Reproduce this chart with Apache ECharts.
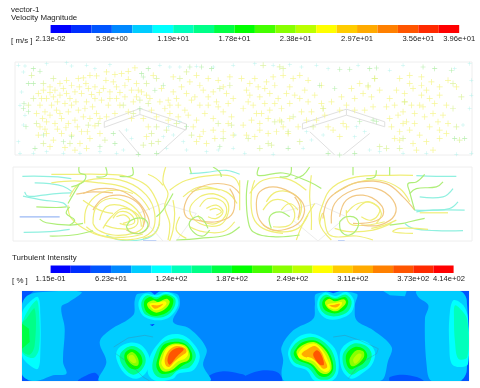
<!DOCTYPE html>
<html><head><meta charset="utf-8">
<style>html,body{margin:0;padding:0;background:#fff}#c{width:480px;height:388px;filter:blur(0.5px)}</style>
<script src="https://cdn.jsdelivr.net/npm/echarts@6/dist/echarts.min.js"></script>
</head><body><div id="c"></div>
<script>
// Rainbow palette of both legends (20 bands)
const palette=['#0000ff','#002dff','#0055ff','#0088ff','#00ccff','#00ffff','#00ffbb','#00ff88','#00ff44','#00ff00','#44ff00','#88ff00','#bbff00','#ffff00','#ffcc00','#ffaa00','#ff8000','#ff5500','#ff2a00','#ff0000'];
const velocityTicks=[0,3,6,9,12,15,18,20];
const velocityLabels=['2.13e-02','5.96e+00','1.19e+01','1.78e+01','2.38e+01','2.97e+01','3.56e+01','3.96e+01'];
const turbulenceTicks=[0,3,6,9,12,15,18,19.77];
const turbulenceLabels=['1.15e-01','6.23e+01','1.24e+02','1.87e+02','2.49e+02','3.11e+02','3.73e+02','4.14e+02'];

// Vector plot: arrow positions per speed colour (domain units)
const vecYellow=[[115,115],[130,105],[150,95],[165,105],[180,85],[200,75],[215,90],[235,70],[250,68],[270,60],[290,62],[320,50],[345,58],[365,55],[385,48],[405,38],[120,150],[140,130],[160,125],[180,120],[200,115],[225,110],[245,115],[265,100],[285,95],[310,100],[330,110],[350,95],[375,90],[395,105],[110,175],[135,170],[150,180],[170,165],[195,145],[215,150],[235,165],[260,140],[285,130],[305,135],[325,150],[350,130],[375,125],[400,140],[120,215],[115,240],[140,200],[165,205],[185,190],[205,205],[225,195],[250,185],[270,190],[290,175],[245,230],[215,240],[185,235],[160,255],[140,235],[240,265],[270,250],[300,235],[320,185],[345,175],[385,170],[430,190],[445,215],[440,245],[455,165],[470,185],[495,160],[510,175],[535,150],[555,165],[575,135],[600,150],[625,125],[650,140],[680,115],[700,130],[520,110],[545,95],[570,80],[600,90],[625,70],[655,75],[690,65],[590,195],[615,175],[640,190],[670,170],[695,185],[610,230],[640,225],[670,230],[700,240],[620,265],[590,260],[450,130],[480,140],[505,135],[530,130],[460,60],[520,65],[590,60],[410,125],[425,110],[395,190],
[125,130],[150,112],[172,140],[190,100],[210,130],[238,95],[258,85],[275,118],[298,112],[318,75],[340,80],[360,112],[385,72],[410,85],[128,190],[155,150],[180,175],[205,170],[228,140],[255,160],[278,155],[300,190],[330,130],[360,150],[135,222],[172,222],[198,218],[232,215],[262,230],[285,212],[150,275],[195,278],[225,285],[260,280],[485,100],[510,150],[560,115],[585,125],[610,105],[640,110],[670,95],[505,195],[535,185],[565,180],[580,215],[655,155],[685,145],[625,150],[600,245],[645,250],[685,205],[440,120],[415,105]];
const vecLime=[[100,130],[85,150],[110,205],[130,265],[210,265],[265,210],[160,70],[130,85],[95,60],[295,205],[315,255],[440,85],[470,70],[540,70],[560,50],[660,100],[690,90],[655,205],[670,250],[695,210],[530,205],[500,225],[575,240],[455,265],[430,270],[400,175],[370,150],[420,135],[445,145],[470,215],[455,235],[475,260]];
const vecGreen=[[100,40],[120,48],[85,85],[100,85],[72,145],[85,170],[70,160],[78,215],[105,280],[190,260],[215,245],[300,275],[345,265],[430,65],[490,90],[465,105],[420,160],[415,298],[470,295],[560,215],[660,275],[635,40],[605,35],[570,35],[130,240],[340,235],[425,55],[445,40]];
const vecCyan=[[55,30],[75,32],[70,50],[140,25],[200,22],[215,32],[260,30],[285,40],[330,28],[480,30],[510,35],[540,35],[590,33],[640,35],[700,30],[65,110],[60,150],[75,180],[70,210],[55,260],[60,295],[100,295],[140,290],[190,295],[240,295],[300,290],[350,295],[380,225],[395,250],[370,285],[505,215],[520,240],[490,245],[540,200],[550,260],[500,280],[560,285],[620,290],[655,285],[700,280],[705,240]];
const vecYellowRight=[[5,70],[30,85],[55,95],[80,80],[105,90],[130,60],[160,70],[180,60],[205,75],[245,90],[30,120],[60,125],[90,115],[115,130],[140,115],[180,130],[205,140],[245,145],[10,160],[40,150],[65,175],[90,165],[125,160],[150,145],[185,170],[215,170],[250,160],[275,140],[305,125],[335,100],[360,85],[385,95],[405,70],[10,210],[35,195],[60,205],[85,190],[120,195],[150,190],[20,240],[45,245],[85,235],[110,230],[145,235],[310,205],[320,215],[280,225],[300,245],[265,215],[255,180],[300,165],[345,165],[375,165],[400,155],[450,190],[475,180],[500,200],[525,175],[555,185],[580,175],[610,180],[450,130],[470,105],[495,115],[520,100],[545,120],[570,130],[600,120],[625,75],[650,95],[480,70],[510,60],[545,65],[575,80],[455,215],[480,230],[510,225],[540,240],[570,215],[600,225],[625,205],[520,265],[560,260],[600,250],[480,255],[495,140],[540,150],[585,145],[620,150],
[20,105],[45,70],[75,100],[100,65],[150,95],[195,105],[225,120],[25,140],[50,175],[75,145],[105,145],[165,120],[230,195],[200,195],[175,215],[60,225],[130,215],[370,115],[345,130],[320,150],[395,125],[420,105],[440,155],[465,150],[490,170],[515,150],[550,155],[595,200],[525,205],[490,205],[465,250],[545,90],[600,95],[560,105],[510,85],[530,285],[580,285],[620,235]];
const vecLimeRight=[[105,200],[125,200],[95,270],[85,265],[145,230],[160,185],[250,160],[405,70],[385,90],[495,140],[640,85],[665,125],[640,160],[650,215],[660,255],[490,250],[480,280],[420,275],[440,280],[25,250],[60,280],[180,260],[220,215],[120,35],[70,30],[130,40]];
const vecGreenRight=[[390,40],[410,38],[300,42],[330,42],[285,100],[240,90],[145,280],[345,295],[300,300],[265,295],[360,200],[400,195],[410,200],[635,45],[550,35],[585,40],[645,250],[675,250]];
const vecCyanRight=[[45,25],[100,30],[150,28],[185,35],[265,40],[230,30],[355,30],[450,45],[490,30],[645,40],[690,25],[695,75],[690,160],[670,210],[695,120],[15,295],[100,298],[190,280],[215,255],[250,240],[200,230],[345,245],[350,215],[375,230],[390,285],[420,290],[650,298],[695,295],[560,295],[490,295]];

// Vector plot: device wireframe (domain units)
const wireLeft=[[[313,200],[420,160],[560,207]],[[313,217],[420,178],[558,225]],[[313,200],[313,217]],[[420,160],[420,178]],[[560,207],[558,225]],[[357,225],[420,300]],[[558,222],[472,300]]];
const wireRight=[[[188,205],[320,162],[435,200]],[[188,222],[320,180],[435,215]],[[188,205],[188,222]],[[320,162],[320,180]],[[435,200],[435,215]],[[210,230],[285,300]],[[390,235],[310,300]]];

// Path lines: left half, colour key then points (domain units)
const pathCyan=[[[68,48],[130,48],[175,50],[215,55]],[[105,68],[150,70],[190,78],[218,95]],[[75,95],[85,108],[130,105],[170,100],[215,98]],[[70,108],[130,120],[190,128],[205,145]],[[72,217],[150,215],[210,208]],[[320,225],[360,240],[420,240],[460,225],[480,190]],[[570,40],[620,36],[680,30],[720,42]]];
const pathBlue=[[[60,170],[120,170],[180,170]],[[430,243],[470,243]]];
const pathGreen=[[[110,140],[170,142],[200,140]],[[120,177],[140,188],[210,195],[250,190]],[[150,228],[220,225],[280,212]],[[238,20],[240,38],[258,45],[250,65],[215,80]],[[318,20],[320,45],[290,50]],[[398,20],[398,45],[360,48]],[[210,140],[200,160],[225,180],[210,195]],[[380,200],[395,180],[430,175],[445,195],[425,218],[395,218],[380,200]],[[520,100],[490,150],[470,170]],[[640,20],[660,35],[665,50]],[[625,205],[600,170],[570,185],[580,215],[610,228],[630,210]],[[530,240],[600,235],[680,225],[720,200]],[[570,20],[575,40]],[[205,130],[225,95],[240,70]]];
const pathYellow=[[[155,42],[230,42],[300,42],[380,48],[440,75],[470,120],[480,160],[470,215],[430,235]],[[210,110],[240,70],[300,55],[380,65],[440,105],[465,160],[455,215],[400,238],[340,235],[270,215],[215,175],[205,135]],[[280,190],[290,140],[330,115],[380,125],[420,160],[430,200],[400,220],[340,225],[295,210],[280,190]],[[300,180],[320,140],[360,135],[400,155],[415,185],[395,205],[350,205],[315,195]],[[340,175],[360,155],[390,160],[405,185],[385,195],[360,190]],[[350,170],[375,165],[390,180],[370,190]],[[498,20],[490,65],[505,100],[495,140],[510,190],[505,240]],[[445,42],[470,55],[490,75]],[[520,120],[525,160],[520,210],[510,243]],[[510,90],[560,60],[640,45],[700,50],[720,80]],[[640,100],[600,110],[570,150],[600,190],[660,195],[685,160],[680,120],[640,100]],[[600,140],[625,115],[670,125],[680,160],[650,190],[610,185],[595,165]],[[620,145],[650,135],[670,155],[650,175],[625,170]],[[630,150],[650,145],[665,155],[650,165]],[[550,110],[600,80],[660,90]],[[540,170],[530,210],[560,235]],[[250,120],[300,150],[340,160]],[[155,68],[225,62],[300,68],[370,80],[420,110],[450,150]],[[255,190],[262,140],[300,100],[350,90],[400,100]],[[260,200],[300,225],[370,232],[430,222]],[[310,205],[335,170],[370,145],[415,165],[425,200]],[[570,200],[610,215],[670,215],[705,185]],[[575,95],[620,85],[680,95],[712,130]]];
const pathOrange=[[[250,100],[300,85],[360,90],[410,120],[440,160],[448,195],[420,220],[380,210]],[[280,150],[310,115],[360,105],[410,125],[435,165],[430,200]],[[720,100],[690,75],[630,72],[580,95],[555,135],[560,170],[590,180],[650,185],[695,165],[705,120],[690,85]],[[230,102],[280,95],[340,98]]];
// Path lines: right half (domain units measured from the panel's centre)
const pathCyanRight=[[[655,125],[630,145],[580,150],[525,150]],[[675,150],[580,150],[530,155]],[[650,48],[590,48],[530,46]],[[670,212],[590,212],[520,205],[495,190]],[[640,85],[610,110],[540,110]]];
const pathBlueRight=[[[295,243],[315,243]]];
const pathGreenRight=[[[555,42],[530,65],[505,70],[510,95],[525,150]],[[610,65],[590,80],[530,85],[510,100]],[[340,20],[340,45]],[[410,30],[405,50],[380,55]],[[450,20],[450,45]],[[155,20],[150,45],[120,50]],[[210,20],[190,45],[165,55]],[[58,20],[55,45],[130,38],[210,65],[245,85]],[[25,60],[20,110],[25,180],[40,215],[100,230],[180,225]],[[95,205],[90,170],[120,155],[150,170]],[[300,185],[320,170],[350,175],[355,200],[330,225],[305,215],[300,185]],[[555,175],[510,185],[490,190],[450,195]]];
const pathYellowRight=[[[520,45],[450,45],[350,50],[280,80],[250,130],[240,190],[275,240]],[[625,158],[540,158]],[[565,208],[480,205],[460,215],[520,220]],[[45,60],[35,100],[40,170],[70,205],[130,220]],[[80,125],[110,95],[160,100],[185,135],[175,180]],[[70,150],[100,120],[140,125],[165,160],[150,195],[100,200]],[[125,150],[150,130],[175,150]],[[215,45],[210,110],[215,160],[215,210]],[[320,160],[355,130],[400,130],[425,160],[410,190]],[[350,150],[380,125],[410,135],[420,155],[395,180],[365,170]],[[320,150],[330,190],[380,195],[435,185]],[[240,190],[250,160],[270,225],[350,228],[400,240]],[[170,240],[190,190],[225,130]],[[0,60],[0,150]],[[285,100],[340,70],[420,60],[480,85],[510,125]],[[285,205],[330,215],[400,210],[455,190]],[[30,100],[70,60],[140,55],[200,90]],[[70,195],[120,215],[175,205],[205,165]],[[395,205],[435,195],[470,180]]];
const pathOrangeRight=[[[50,130],[60,95],[100,80],[150,95],[190,130],[190,170],[160,200],[100,210],[60,180],[50,130]],[[275,190],[285,130],[340,90],[410,85],[460,120],[465,165],[420,195],[365,195]],[[250,175],[265,120],[310,85],[360,65],[440,70],[490,110],[525,150]],[[300,170],[320,120],[370,105],[420,130],[430,165],[400,185],[340,190]],[[165,110],[180,140],[175,175]]];
const pathWire=[[[415,160],[490,130],[590,160],[530,243]],[[415,160],[490,243]]];
const pathWireRight=[[[130,155],[230,130],[320,170],[235,243]],[[160,180],[235,243]]];

// Turbulent intensity contours: [band index, outline] (domain units)
const contourBackdrop=[[3,[[37,17],[1377,17],[1377,287],[37,287]]]];
const contourLeftHalf=[
[2,[[37,17],[72,17],[52,35],[37,55]]],[2,[[37,268],[58,287],[37,287]]],
[4,[[55,30],[100,20],[215,20],[178,50],[155,65],[165,130],[160,230],[170,265],[130,270],[90,285],[60,285],[37,265],[37,60]]],
[5,[[85,35],[60,50],[37,85],[37,210],[60,240],[85,250],[92,200],[92,90]]],
[6,[[80,45],[37,115],[37,200],[70,218],[88,190],[88,80]]],
[7,[[75,70],[50,100],[37,115],[37,195],[60,208],[75,180]]],
[8,[[37,115],[58,130],[60,170],[37,190]]],
[2,[[220,275],[255,262],[270,280],[260,287],[205,287]]],[2,[[600,270],[640,258],[690,265],[705,270],[705,287],[600,287]]],
[4,[[385,25],[500,25],[510,60],[490,110],[540,130],[590,190],[580,240],[600,287],[270,287],[290,230],[270,170],[300,135],[370,90],[375,45]]],
[2,[[420,17],[450,17],[435,28]]],[1,[[420,118],[435,116],[428,122]]]];
const contourTopPlumeLeft=[
[5,[[388,45],[405,25],[440,30],[470,20],[500,35],[505,60],[480,95],[445,105],[405,95],[388,70]]],
[7,[[396,48],[412,30],[440,36],[468,26],[495,38],[495,62],[475,88],[445,97],[408,88],[396,68]]],
[9,[[403,50],[420,35],[440,42],[465,30],[490,42],[480,75],[440,92],[410,80]]],
[12,[[412,55],[430,45],[445,50],[470,40],[480,50],[465,72],[440,82],[420,72]]],
[13,[[420,55],[440,52],[465,48],[470,55],[455,70],[435,75],[425,68]]],
[15,[[425,60],[445,60],[460,55],[450,65],[435,70]]]];
const contourSmallPlumeLeft=[
[5,[[325,190],[360,172],[395,180],[420,220],[410,260],[380,280],[345,265],[320,220]]],
[7,[[335,200],[365,182],[395,195],[408,225],[395,255],[370,268],[345,250],[330,220]]],
[9,[[345,205],[365,192],[390,205],[398,230],[385,250],[365,250],[348,232]]],
[11,[[352,210],[368,200],[385,220],[385,240],[370,240],[355,225]]],
[12,[[358,212],[370,210],[380,230],[370,233],[358,222]]]];
const contourBigPlumeLeft=[
[5,[[445,175],[475,150],[520,150],[555,180],[570,215],[550,255],[505,265],[490,280],[440,287],[415,265],[420,215]]],
[7,[[435,210],[455,175],[490,160],[525,165],[550,190],[558,215],[540,245],[505,255],[480,275],[445,275],[428,250]]],
[9,[[445,215],[460,180],[490,170],[525,175],[545,200],[545,225],[520,240],[490,260],[455,265],[440,245]]],
[12,[[450,220],[465,190],[490,175],[525,180],[540,205],[535,225],[510,235],[485,255],[460,258],[448,240]]],
[13,[[458,220],[470,190],[495,178],[525,185],[535,205],[525,220],[505,228],[480,250],[465,250],[455,235]]],
[15,[[465,222],[478,195],[500,182],[525,188],[530,200],[515,212],[495,228],[478,245],[468,240]]],
[17,[[473,225],[482,200],[505,187],[522,192],[500,215],[480,238]]]];
// Right half outlines, measured from the right half's own origin
const contourRightHalf=[
[2,[[20,270],[70,255],[115,262],[125,287],[0,287]]],[2,[[450,275],[490,268],[530,275],[550,287],[450,287]]],
[4,[[230,25],[350,25],[345,60],[350,105],[400,135],[455,185],[445,225],[420,287],[135,287],[125,265],[130,225],[125,185],[160,135],[220,100],[225,60]]],
[2,[[260,17],[300,17],[280,24]]],
[4,[[430,17],[500,17],[495,33],[450,30]]],
[2,[[660,17],[687,17],[687,287],[665,287],[680,260],[680,40]]],
[4,[[530,17],[660,17],[680,45],[680,255],[660,287],[575,287],[560,240],[555,100],[565,60],[535,35]]],
[5,[[640,45],[670,60],[684,100],[684,235],[660,245],[635,235],[628,180],[628,100]]],
[6,[[645,60],[665,75],[682,105],[682,215],[655,220],[645,170],[642,100]]]];
const contourTopPlumeRight=[
[5,[[235,40],[255,22],[285,32],[320,20],[342,45],[335,80],[300,100],[260,100],[235,75]]],
[7,[[240,45],[258,28],[285,38],[318,28],[335,48],[325,78],[295,92],[262,90],[242,72]]],
[9,[[248,48],[262,35],[285,42],[315,35],[325,50],[315,72],[290,84],[265,80],[250,68]]],
[12,[[255,52],[268,40],[285,48],[312,42],[318,52],[305,68],[288,78],[268,72]]],
[13,[[262,58],[285,53],[305,50],[305,58],[290,72],[270,68]]],
[15,[[268,60],[285,58],[300,56],[290,66],[275,64]]]];
const contourBigPlumeRight=[
[5,[[150,185],[175,155],[215,145],[260,165],[290,200],[295,260],[275,287],[225,287],[200,255],[160,240],[145,210]]],
[7,[[155,190],[180,165],[220,155],[255,172],[280,205],[288,255],[270,280],[235,280],[205,248],[165,232],[152,210]]],
[9,[[165,195],[185,172],[220,165],[250,180],[272,210],[280,250],[265,272],[240,272],[212,240],[175,225],[162,208]]],
[12,[[170,198],[190,178],[222,170],[248,186],[268,215],[275,250],[262,265],[242,262],[215,235],[180,220]]],
[13,[[175,205],[195,182],[225,175],[245,192],[262,220],[270,250],[258,260],[242,252],[220,228],[190,222],[178,218]]],
[15,[[185,205],[205,190],[225,182],[243,198],[255,225],[262,245],[250,250],[235,235],[215,218],[195,215]]],
[17,[[220,205],[232,195],[245,210],[252,238],[240,238],[225,220]]]];
const contourSmallPlumeRight=[
[5,[[305,190],[340,165],[380,170],[405,200],[395,240],[365,265],[335,280],[310,260],[300,225]]],
[7,[[312,200],[340,175],[375,180],[395,205],[385,238],[360,255],[335,268],[315,250],[308,225]]],
[9,[[320,205],[345,185],[370,190],[382,210],[372,232],[350,245],[332,252],[320,235]]],
[11,[[330,218],[350,195],[370,198],[372,215],[355,235],[338,243],[330,235]]],
[12,[[340,222],[355,205],[365,208],[358,225],[345,235]]]];
const contourWire=[[[312,185],[355,158],[405,150],[430,155]],[[318,205],[360,235],[400,275],[420,287]]];
const contourWireRight=[[[280,155],[315,150],[360,165],[415,190],[410,205],[360,235],[325,280]]];

// Two halves of the vector and path panels join at this domain unit; contours at another
const VEC_HALF=720, CONTOUR_HALF=690;
const shiftOutline=(o,d)=>o.map(p=>[p[0]+d,p[1]]);
const shiftBands=(b,d)=>b.map(([l,o])=>[l,shiftOutline(o,d)]);
const shiftLines=(a,d)=>a.map(o=>shiftOutline(o,d));

const chart=echarts.init(document.getElementById('c'),null,{renderer:'canvas'});
const grids=[],xAxes=[],yAxes=[],series=[];
function addPanel(g,x,y){
  grids.push(Object.assign({show:true,backgroundColor:'#fff',borderColor:'#eeeeee',borderWidth:1},g));
  const i=grids.length-1;
  xAxes.push({gridIndex:i,type:'value',min:x[0],max:x[1],show:false});
  yAxes.push({gridIndex:i,type:'value',min:y[0],max:y[1],inverse:true,show:false});
  return i;
}
function addBar(g,ticks,labels){
  grids.push(Object.assign({show:false},g));
  const i=grids.length-1;
  xAxes.push({gridIndex:i,type:'value',min:0,max:20,axisLine:{show:false},splitLine:{show:false},
    axisTick:{show:false},
    axisLabel:{customValues:ticks,hideOverlap:false,showMinLabel:true,showMaxLabel:true,margin:2,fontFamily:'Liberation Sans',fontSize:7.6,color:'#222',
      formatter:v=>labels[ticks.indexOf(v)]}});
  yAxes.push({gridIndex:i,type:'value',min:0,max:1,show:false});
  series.push({type:'custom',xAxisIndex:i,yAxisIndex:i,silent:true,
    data:palette.map((c,k)=>[k,k+1]),encode:{x:[0,1]},
    renderItem:(p,api)=>{const a=api.coord([api.value(0),1]),b=api.coord([api.value(1),0]);
      return {type:'rect',shape:{x:a[0],y:a[1],width:b[0]-a[0],height:b[1]-a[1]},style:{fill:palette[api.value(0)]}};}});
}
function addPolys(i,polys,style,shape){
  series.push({type:'custom',xAxisIndex:i,yAxisIndex:i,silent:true,clip:true,
    data:polys.map((_,k)=>[k]),encode:{x:[],y:[]},
    renderItem:(p)=>{const pts=polys[p.dataIndex].map(q=>chart.convertToPixel({gridIndex:i},q));
      return {type:'polyline',shape:{points:pts,smooth:shape},style:Object.assign({fill:null},style)};}});
}
function addBands(i,bands){
  series.push({type:'custom',xAxisIndex:i,yAxisIndex:i,silent:true,clip:true,
    data:bands.map((_,k)=>[k]),encode:{x:[],y:[]},
    renderItem:(p)=>{const [l,o]=bands[p.dataIndex];const pts=o.map(q=>chart.convertToPixel({gridIndex:i},q));
      return {type:'polygon',shape:{points:pts,smooth:o.length>4?0.35:0},style:{fill:palette[l]}};}});
}
function addArrows(i,pts,color,size){
  series.push({type:'scatter',xAxisIndex:i,yAxisIndex:i,silent:true,clip:false,data:pts,symbolSize:size,
    symbol:'path://M0,4.4H10V5.6H0Z M4.4,0H5.6V10H4.4Z',itemStyle:{color,opacity:.8}});
}
addBar({left:50.6,top:25,width:408.6,height:8},velocityTicks,velocityLabels);
addBar({left:50.6,top:265.5,width:403,height:7.5},turbulenceTicks,turbulenceLabels);

const p1=addPanel({left:15,top:62,width:457,height:93},[45,1417],[20,300]);
addPolys(p1,wireLeft.concat(shiftLines(wireRight,VEC_HALF)),{stroke:'#e0e0e0',lineWidth:1},0);
addArrows(p1,vecCyan.concat(shiftOutline(vecCyanRight,VEC_HALF)),'#a8f0e8',4);
addArrows(p1,vecYellow.concat(shiftOutline(vecYellowRight,VEC_HALF)),'#f4f47c',6);
addArrows(p1,vecLime.concat(shiftOutline(vecLimeRight,VEC_HALF)),'#d6f08c',6);
addArrows(p1,vecGreen.concat(shiftOutline(vecGreenRight,VEC_HALF)),'#a4ea98',5);

const p2=addPanel({left:13,top:167,width:459,height:74},[40,1417],[20,243]);
addPolys(p2,pathWire.concat(shiftLines(pathWireRight,VEC_HALF)),{stroke:'#ececec',lineWidth:1},0);
addPolys(p2,pathCyan.concat(shiftLines(pathCyanRight,VEC_HALF)),{stroke:'#90f0e0',lineWidth:1.2},.4);
addPolys(p2,pathBlue.concat(shiftLines(pathBlueRight,VEC_HALF)),{stroke:'#9ab8f4',lineWidth:1.2},.4);
addPolys(p2,pathYellow.concat(shiftLines(pathYellowRight,VEC_HALF)),{stroke:'#f0ee78',lineWidth:1.2},.4);
addPolys(p2,pathOrange.concat(shiftLines(pathOrangeRight,VEC_HALF)),{stroke:'#f2c884',lineWidth:1.2},.4);
addPolys(p2,pathGreen.concat(shiftLines(pathGreenRight,VEC_HALF)),{stroke:'#aeee78',lineWidth:1.2},.4);

const p3=addPanel({left:22,top:291,width:447,height:90},[37,1377],[17,287]);
addBands(p3,contourBackdrop.concat(contourLeftHalf,contourTopPlumeLeft,contourSmallPlumeLeft,contourBigPlumeLeft,
  shiftBands(contourRightHalf,CONTOUR_HALF),shiftBands(contourTopPlumeRight,CONTOUR_HALF),shiftBands(contourBigPlumeRight,CONTOUR_HALF),shiftBands(contourSmallPlumeRight,CONTOUR_HALF)));
addPolys(p3,contourWire.concat(shiftLines(contourWireRight,CONTOUR_HALF)),{stroke:'#55708a',lineWidth:.5,opacity:.6},0);

const label=(text,x,y)=>({type:'text',x,y,style:{text,fill:'#222',font:'7.9px "Liberation Sans"',textVerticalAlign:'middle'}});
const option={animation:false,backgroundColor:'#fff',grid:grids,xAxis:xAxes,yAxis:yAxes,series,
  graphic:[label('vector-1',11,10),label('Velocity Magnitude',11,17.5),label('[ m/s ]',11,40.5),label('Turbulent Intensity',12,258),label('[ % ]',12,281)]};
// Grids must exist before marks are converted to pixels
chart.setOption({grid:grids,xAxis:xAxes,yAxis:yAxes});
chart.setOption(option);
</script></body></html>
